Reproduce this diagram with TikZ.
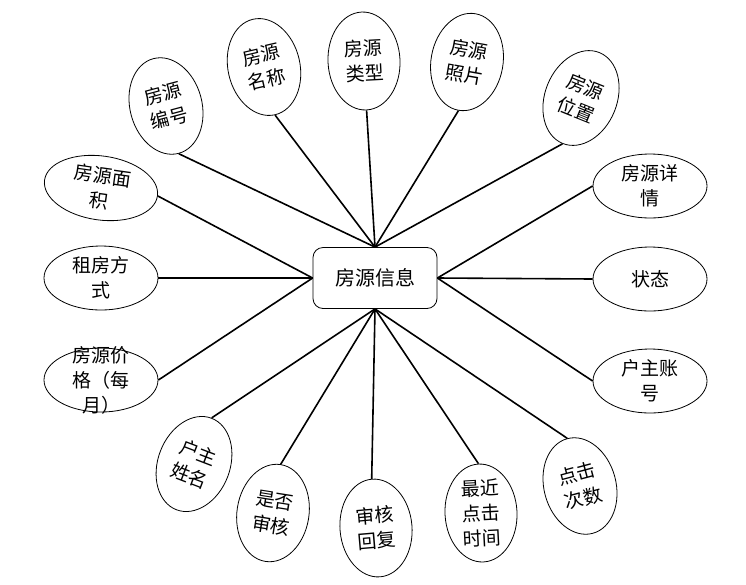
\documentclass[tikz,border=0pt]{standalone}
\usepackage{fontspec}
\newfontfamily\cjk{Noto Sans CJK SC}
\usetikzlibrary{shapes.geometric}

\begin{document}
\begin{tikzpicture}[x=1pt, y=-1pt,
    attrv/.style={ellipse, draw, line width=0.8pt, minimum width=72pt, minimum height=98pt,
        inner sep=0pt, align=center, font=\cjk\fontsize{19}{25}\selectfont},
    attrh/.style={ellipse, draw, line width=0.8pt, minimum width=114pt, minimum height=64pt,
        inner sep=0pt, align=center, font=\cjk\fontsize{19}{25}\selectfont},
    link/.style={line width=1.6pt}]
    \useasboundingbox (0,0) rectangle (746,584);

    % Entity
    \node[draw, line width=0.8pt, rounded corners=10pt, minimum width=124pt, minimum height=61pt,
        font=\cjk\fontsize{20}{25}\selectfont] (info) at (375,278) {房源信息};

    % Attributes on top
    \node[attrv, rotate=15] (bianhao) at (166,106) {房源\\编号};
    \node[attrv, rotate=13] (mingcheng) at (264,67) {房源\\名称};
    \node[attrv, rotate=3] (leixing) at (364,61) {房源\\类型};
    \node[attrv, rotate=-10] (zhaopian) at (467,62) {房源\\照片};
    \node[attrv, rotate=-22] (weizhi) at (581,98) {房源\\位置};

    % Attributes on the right
    \node[attrh] (xiangqing) at (650,186) {房源详\\情};
    \node[attrh] (zhuangtai) at (650,279) {状态};
    \node[attrh] (zhanghao) at (650,381) {户主账\\号};

    % Attributes at the bottom
    \node[attrv, rotate=15] (cishu) at (580,486) {点击\\次数};
    \node[attrv, rotate=3] (shijian) at (481,513) {最近\\点击\\时间};
    \node[attrv, rotate=5] (huifu) at (376,528) {审核\\回复};
    \node[attrv, rotate=-9] (shenhe) at (273,513) {是否\\审核};
    \node[attrv, rotate=-21] (xingming) at (194,464) {户主\\姓名};

    % Attributes on the left
    \node[attrh, inner ysep=-12pt] (jiage) at (101,380) {房源价\\格（每\\月）};
    \node[attrh] (fangshi) at (101,278) {租房方\\式};
    \node[attrh, rotate=-8] (mianji) at (101,188) {房源面\\积};

    % Links
    \foreach \a in {bianhao, mingcheng, leixing, zhaopian, weizhi}
        \draw[link] (\a.south) -- (info.north);
    \foreach \a in {xiangqing, zhuangtai, zhanghao}
        \draw[link] (\a.west) -- (info.east);
    \foreach \a in {cishu, shijian, huifu, shenhe, xingming}
        \draw[link] (\a.north) -- (info.south);
    \foreach \a in {jiage, fangshi, mianji}
        \draw[link] (\a.east) -- (info.west);
\end{tikzpicture}
\end{document}
